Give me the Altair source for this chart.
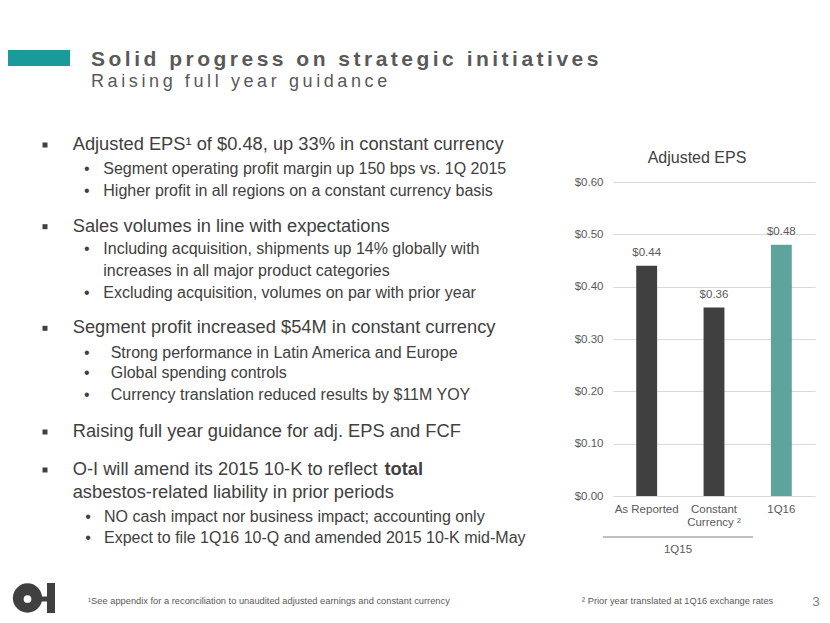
import altair as alt
import pandas as pd

# ---------------- data ----------------
categories = ["As Reported", "Constant\nCurrency ²", "1Q16"]
eps_values = [0.44, 0.36, 0.48]
group_label = "1Q15"
y_ticks = [0.0, 0.1, 0.2, 0.3, 0.4, 0.5, 0.6]
chart_title = "Adjusted EPS"

slide_title = "Solid progress on strategic initiatives"
slide_subtitle = "Raising full year guidance"
main_points = [
    "Adjusted EPS¹ of $0.48, up 33% in constant currency",
    "Sales volumes in line with expectations",
    "Segment profit increased $54M in constant currency",
    "Raising full year guidance for adj. EPS and FCF",
    "O-I will amend its 2015 10-K to reflect ",
]
main_bold = "total"
main_cont = "asbestos-related liability in prior periods"
sub_points_1 = ["Segment operating profit margin up 150 bps vs. 1Q 2015",
                "Higher profit in all regions on a constant currency basis"]
sub_points_2 = ["Including acquisition, shipments up 14% globally with",
                "increases in all major product categories",
                "Excluding acquisition, volumes on par with prior year"]
sub_points_3 = ["Strong performance in Latin America and Europe",
                "Global spending controls",
                "Currency translation reduced results by $11M YOY"]
sub_points_5 = ["NO cash impact nor business impact; accounting only",
                "Expect to file 1Q16 10-Q and amended 2015 10-K mid-May"]
footnote_1 = "¹See appendix for a reconciliation to unaudited adjusted earnings and constant currency"
footnote_2 = "² Prior year translated at 1Q16 exchange rates"
page_number = "3"

# ---------------- layout ----------------
FONT = "Liberation Sans"
DARK = "#404040"
GRAY = "#595959"
TEAL_BAR = "#5fa39d"
TEAL_HEAD = "#1b9a9b"
OX, OY = 613, 182          # page position of plot origin
W, H = 202, 314

one = pd.DataFrame({"k": [0]})


def txt(s, x, y, size, color=DARK, weight="normal", align="left", baseline="middle"):
    return alt.Chart(one).mark_text(
        text=s, align=align, baseline=baseline, fontSize=size,
        fontWeight=weight, color=color, font=FONT
    ).encode(x=alt.value(x - OX), y=alt.value(y - OY))


def rect(x1, x2, y1, y2, color):
    return alt.Chart(one).mark_rect(color=color).encode(
        x=alt.value(x1 - OX), x2=alt.value(x2 - OX),
        y=alt.value(y1 - OY), y2=alt.value(y2 - OY))


def dot(x, y, size, color, shape="circle"):
    return alt.Chart(one).mark_point(
        shape=shape, size=size, filled=True, color=color, opacity=1, strokeWidth=0
    ).encode(x=alt.value(x - OX), y=alt.value(y - OY))


def spaced(s, sep):
    return sep.join(list(s))


df = pd.DataFrame({"cat": categories, "eps": eps_values})

base = alt.Chart(df).encode(
    x=alt.X("cat:N", sort=categories,
            scale=alt.Scale(paddingInner=0.69, paddingOuter=0.345),
            axis=alt.Axis(title=None, labelAngle=0, domain=False, ticks=False,
                          labelPadding=7, labelFontSize=11.5, labelColor=GRAY,
                          labelExpr="split(datum.label, '\\n')",
                          labelLineHeight=13, labelBaseline="top")),
    y=alt.Y("eps:Q", scale=alt.Scale(domain=[0, 0.6]),
            axis=alt.Axis(title=None, values=y_ticks, format="$.2f",
                          domain=False, ticks=False, labelPadding=10,
                          gridColor="#d9d9d9", labelFontSize=11.5,
                          labelColor=GRAY)),
)

bars = base.mark_bar().encode(
    color=alt.Color("cat:N", sort=categories,
                    scale=alt.Scale(domain=categories, range=[DARK, DARK, TEAL_BAR]),
                    legend=None))
values = base.mark_text(dy=-13, baseline="middle", fontSize=11.5, color=GRAY, font=FONT).encode(
    text=alt.Text("eps:Q", format="$.2f"))

layers = [bars, values]

# chart title, group rule and label
layers.append(txt(chart_title, 697, 158, 16, color=DARK, align="center"))
layers.append(alt.Chart(one).mark_rule(color="#808080", strokeWidth=1).encode(
    x=alt.value(603 - OX), x2=alt.value(753 - OX), y=alt.value(537 - OY)))
layers.append(txt(group_label, 678, 549.5, 11.5, color=GRAY, align="center"))

# slide header
layers.append(rect(8, 70, 50, 66, TEAL_HEAD))
layers.append(txt(spaced(slide_title, "\u2006"), 91, 66, 21, color=GRAY, weight="bold",
                  baseline="alphabetic"))
layers.append(txt(spaced(slide_subtitle, "\u2009"), 91, 87, 18, color=GRAY,
                  baseline="alphabetic"))

# main bullets
MAIN = 18.3
SUB = 16
main_y = [145, 226.7, 328.3, 432, 470]
for s, y in zip(main_points, main_y):
    layers.append(dot(45, y, 25, DARK, shape="square"))
    layers.append(txt(s, 72.7, y, MAIN))
layers.append(txt(main_bold, 384.5, 470, MAIN, weight="bold"))
layers.append(txt(main_cont, 72.7, 493.3, MAIN))

# sub bullets
def subs(lines, ys, bx, tx, bullet_mask):
    for s, y, b in zip(lines, ys, bullet_mask):
        if b:
            layers.append(txt("•", bx, y, SUB, align="center"))
        layers.append(txt(s, tx, y, SUB))

subs(sub_points_1, [169.3, 191], 86.7, 103.3, [1, 1])
subs(sub_points_2, [249.3, 271, 292.7], 86.7, 103.3, [1, 0, 1])
subs(sub_points_3, [352.7, 373.3, 395], 86.7, 110.7, [1, 1, 1])
subs(sub_points_5, [517, 538], 88, 104, [1, 1])

# logo
layers.append(dot(27.5, 598, 860, DARK))
layers.append(rect(40, 48, 596.5, 601.5, DARK))
layers.append(rect(47, 55, 583, 613, DARK))
layers.append(dot(27.5, 599, 60, "white"))

# footer
layers.append(txt(footnote_1, 88, 601, 9.3, color=GRAY))
layers.append(txt(footnote_2, 582, 601, 9.3, color=GRAY))
layers.append(txt(page_number, 816, 601.5, 13.5, color="#808080", align="center"))

chart = alt.layer(*layers).properties(
    width=W, height=H,
    padding={"left": OX - 8, "top": OY - 8, "right": 814 - (OX - 8) - W,
             "bottom": 607 - (OY - 8) - H},
    autosize=alt.AutoSizeParams(type="none"),
    background="white",
).configure_view(stroke=None).configure_axis(labelFont=FONT)

chart.save("out.html", embed_options={"renderer": "svg", "actions": False})
